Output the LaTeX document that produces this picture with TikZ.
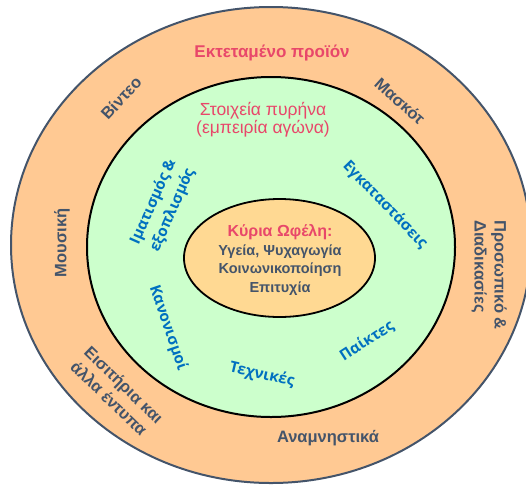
\documentclass[tikz,border=0pt]{standalone}
\usepackage{fontspec}
\setmainfont{Liberation Sans}
\newfontfamily\bluefont{Open Sans}
\usetikzlibrary{shapes.geometric}
\definecolor{peach}{HTML}{FFC993}
\definecolor{mint}{HTML}{CCFFCC}
\definecolor{corefill}{HTML}{FFD993}
\definecolor{slate}{HTML}{44546A}
\definecolor{rose}{HTML}{E8476A}
\definecolor{blu}{HTML}{0070C0}
\begin{document}
\begin{tikzpicture}[x=1pt,y=-1pt,
  ring/.style={ellipse, inner sep=0pt, outer sep=0pt},
  outerlbl/.style={font=\bfseries\fontsize{16.5}{20}\selectfont, text=slate, inner sep=0pt},
  bluelbl/.style={font=\bluefont\bfseries\fontsize{15.2}{21}\selectfont, text=blu, inner sep=0pt},
  title/.style={font=\fontsize{17.5}{18}\selectfont, text=rose, inner sep=0pt, align=center}]
\useasboundingbox (0,0) rectangle (526,485);
\node[ring, draw=slate, line width=2pt, fill=peach, minimum width=520pt, minimum height=476pt] (outer) at (271,245) {};
\node[ring, draw=black, line width=2pt, fill=mint, minimum width=368pt, minimum height=340pt] (core) at (271,247) {};
\node[ring, draw=black, line width=1.8pt, fill=corefill, minimum width=191pt, minimum height=118pt] (benefit) at (279.5,258) {};
% outer ring labels
\node[title, font=\bfseries\fontsize{17}{18}\selectfont] (ext) at (272,53) {Εκτεταμένο προϊόν};
\node[outerlbl, rotate=47] (video) at (121,98) {Βίντεο};
\node[outerlbl, rotate=-42] (mascot) at (400,101) {Μασκότ};
\node[outerlbl, rotate=90] (music) at (62,243) {Μουσική};
\node[outerlbl, rotate=-90, align=left] (staff) at (489,275) {Προσωπικό \&\\Διαδικασίες};
\node[outerlbl, rotate=-44, align=left] (tickets) at (117,392) {Εισιτήρια και\\άλλα έντυπα};
\node[outerlbl] (souv) at (328,438) {Αναμνηστικά};
% core ring labels
\node[title] (corettl) at (263,120) {Στοιχεία πυρήνα\\(εμπειρία αγώνα)};
\node[bluelbl, rotate=66, align=center] (kit) at (163,206) {Ιματισμός \&\\εξοπλισμός};
\node[bluelbl, rotate=-46] (fac) at (385,205) {Εγκαταστάσεις};
\node[bluelbl, rotate=-71] (rules) at (168,328) {Κανονισμοί};
\node[bluelbl, rotate=-13] (tech) at (262,375) {Τεχνικές};
\node[bluelbl, rotate=33] (players) at (367,341) {Παίκτες};
% centre
\node[inner sep=0pt, align=center, font=\bfseries\fontsize{14.5}{18.5}\selectfont, text=slate] (ben) at (280,260)
  {\textcolor{rose}{\fontsize{16}{18.5}\selectfont Κύρια Ωφέλη:}\\Υγεία, Ψυχαγωγία\\Κοινωνικοποίηση\\Επιτυχία};
\end{tikzpicture}
\end{document}
